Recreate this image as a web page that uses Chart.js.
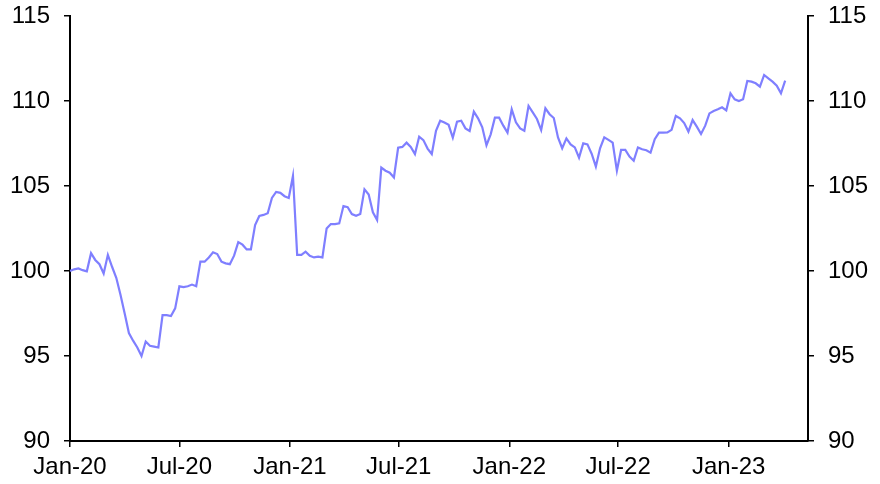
<!DOCTYPE html>
<html>
<head>
<meta charset="utf-8">
<script src="https://cdn.jsdelivr.net/npm/chart.js@4.4.0/dist/chart.umd.min.js"></script>
<style>
  html, body { margin: 0; padding: 0; background: #fff; }
  #wrap { width: 880px; height: 484px; }
</style>
</head>
<body>
<div id="wrap"><canvas id="chart" width="880" height="484"></canvas></div>
<script>
// weekly index values, first week starting 1 Jan 2020
const startDate = '2020-01-01';
const values = [
  100.0, 100.1, 100.15, 100.05, 99.98, 101.05, 100.65, 100.4, 99.85, 100.95,
  100.25, 99.6, 98.6, 97.5, 96.35, 95.9, 95.5, 95.0, 95.85, 95.6,
  95.55, 95.5, 97.4, 97.4, 97.35, 97.8, 99.1, 99.05, 99.1, 99.2,
  99.1, 100.55, 100.55, 100.8, 101.1, 101.0, 100.55, 100.45, 100.4, 100.9,
  101.7, 101.55, 101.27, 101.27, 102.7, 103.24, 103.3, 103.4, 104.3, 104.65,
  104.6, 104.4, 104.3, 105.6, 100.95, 100.95, 101.14, 100.9, 100.8, 100.85,
  100.8, 102.5, 102.76, 102.76, 102.8, 103.82, 103.75, 103.35, 103.25, 103.35,
  104.8, 104.5, 103.45, 103.0, 106.08, 105.9, 105.78, 105.5, 107.25, 107.3,
  107.55, 107.3, 106.88, 107.9, 107.7, 107.2, 106.88, 108.25, 108.84, 108.73,
  108.6, 107.84, 108.78, 108.84, 108.39, 108.24, 109.37, 108.98, 108.45, 107.4,
  108.04, 109.02, 109.02, 108.55, 108.14, 109.51, 108.75, 108.39, 108.25, 109.71,
  109.33, 108.94, 108.29, 109.57, 109.22, 109.0, 107.86, 107.22, 107.8, 107.45,
  107.27, 106.67, 107.51, 107.45, 106.9, 106.14, 107.22, 107.86, 107.71, 107.55,
  105.9, 107.12, 107.12, 106.73, 106.49, 107.27, 107.16, 107.1, 106.96, 107.75,
  108.14, 108.14, 108.15, 108.3, 109.12, 108.98, 108.7, 108.2, 108.88, 108.49,
  108.06, 108.55, 109.27, 109.41, 109.51, 109.63, 109.45, 110.45, 110.1, 110.0,
  110.1, 111.18, 111.14, 111.04, 110.84, 111.53, 111.33, 111.14, 110.9, 110.45,
  111.2
];
const tickLabels = ['Jan-20', 'Jul-20', 'Jan-21', 'Jul-21', 'Jan-22', 'Jul-22', 'Jan-23'];
const tickDates = ['2020-01-01', '2020-07-01', '2021-01-01', '2021-07-01', '2022-01-01', '2022-07-01', '2023-01-01'];
const axisEnd = '2023-05-13';
const yTicks = [90, 95, 100, 105, 110, 115];

const DAY = 86400000;
const t0 = Date.parse(startDate);
const dayOf = s => Math.round((Date.parse(s) - t0) / DAY);
const tickDays = tickDates.map(dayOf);

// one point per week
const points = values.map((v, i) => ({ x: i * 7, y: v }));

const font = { family: 'Liberation Sans, Arial, sans-serif', size: 24 };

const yAxis = (pos, w) => ({
  position: pos,
  min: yTicks[0],
  max: yTicks[yTicks.length - 1],
  afterBuildTicks: s => { s.ticks = yTicks.map(v => ({ value: v })); },
  afterFit: s => { s.width = w; s.paddingTop = 0; s.paddingBottom = 0; },
  ticks: { color: '#000', font: font, padding: 14 },
  grid: { drawOnChartArea: false, color: '#000', lineWidth: 1.5, tickLength: 6 },
  border: { color: '#000', width: 2 }
});

new Chart(document.getElementById('chart').getContext('2d'), {
  type: 'line',
  data: {
    datasets: [{
      data: points,
      borderColor: '#7f7fff',
      borderWidth: 2.2,
      pointRadius: 0,
      tension: 0,
      fill: false,
      yAxisID: 'y'
    }]
  },
  options: {
    responsive: false,
    animation: false,
    layout: { padding: { top: 16, bottom: 0, left: 0, right: 0 } },
    plugins: { legend: { display: false }, tooltip: { enabled: false } },
    scales: {
      x: {
        type: 'linear',
        min: 0,
        max: dayOf(axisEnd),
        afterBuildTicks: s => { s.ticks = tickDays.map(d => ({ value: d })); },
        afterFit: s => { s.height = 43; },
        ticks: {
          color: '#000',
          font: font,
          padding: 6,
          maxRotation: 0,
          autoSkip: false,
          callback: v => tickLabels[tickDays.indexOf(v)]
        },
        grid: { drawOnChartArea: false, color: '#000', lineWidth: 1.5, tickLength: 6 },
        border: { color: '#000', width: 2 }
      },
      y: yAxis('left', 70),
      y2: yAxis('right', 72)
    }
  }
});
</script>
</body>
</html>
